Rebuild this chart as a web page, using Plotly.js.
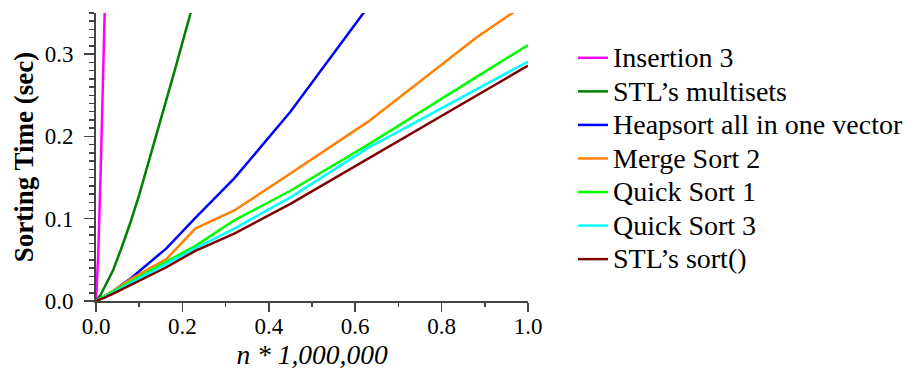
<!DOCTYPE html>
<html>
<head>
<meta charset="utf-8">
<script src="https://cdn.plot.ly/plotly-3.0.1.min.js"></script>
<style>
html,body{margin:0;padding:0;background:#fff;}
#chart{width:916px;height:376px;}
.main-svg text, .main-svg tspan {font-family: "Liberation Serif", "Times New Roman", serif !important;}
</style>
</head>
<body>
<div id="chart"></div>
<script>
// Data (n in millions, time in seconds)
const seriesNames = ["Insertion 3", "STL\u2019s multisets", "Heapsort all in one vector", "Merge Sort 2", "Quick Sort 1", "Quick Sort 3", "STL\u2019s sort()"];
const seriesColors = ["#ff00ff", "#008000", "#0000ff", "#ff8000", "#00ff00", "#00ffff", "#800000"];

const nInsertion = [0, 0.005, 0.0108, 0.015, 0.021];
const tInsertion = [0, 0.055, 0.157, 0.24, 0.37];

const nMultiset = [0, 0.01, 0.02, 0.04, 0.06, 0.08, 0.10, 0.12, 0.14, 0.16, 0.18, 0.20, 0.22, 0.23];
const tMultiset = [0, 0.007, 0.017, 0.038, 0.066, 0.096, 0.129, 0.165, 0.201, 0.238, 0.276, 0.314, 0.352, 0.371];

const nCommon = [0, 0.01, 0.02, 0.04, 0.0815, 0.163, 0.23, 0.32, 0.45, 0.63, 0.88, 1.0];
const tHeap   = [0, 0.003, 0.006, 0.012, 0.028, 0.064, 0.101, 0.149, 0.230, 0.355, 0.53, 0.62];
const tMerge2 = [0, 0.003, 0.006, 0.012, 0.027, 0.051, 0.088, 0.110, 0.155, 0.218, 0.320, 0.363];
const tQuick1 = [0, 0.003, 0.006, 0.011, 0.024, 0.048, 0.067, 0.098, 0.134, 0.190, 0.272, 0.311];
const tQuick3 = [0, 0.002, 0.005, 0.010, 0.022, 0.045, 0.064, 0.088, 0.126, 0.186, 0.257, 0.291];
const tSTLsort= [0, 0.002, 0.004, 0.009, 0.020, 0.041, 0.061, 0.082, 0.118, 0.173, 0.249, 0.286];

const xs = [nInsertion, nMultiset, nCommon, nCommon, nCommon, nCommon, nCommon];
const ys = [tInsertion, tMultiset, tHeap, tMerge2, tQuick1, tQuick3, tSTLsort];

const yTitle = "<b>Sorting Time (sec)</b>";
const xTitle = "<i>n * 1,000,000</i>";

const FONT = "Liberation Serif";

const traces = seriesNames.map((name, i) => ({
  type: "scatter",
  mode: "lines",
  name: '<span style="font-size:28px">' + name + '</span>',
  x: xs[i],
  y: ys[i],
  line: {color: seriesColors[i], width: 2.5},
  hoverinfo: "skip"
}));

const axisCommon = {
  showgrid: false,
  zeroline: false,
  showline: true,
  linecolor: "#444",
  linewidth: 2,
  ticks: "outside",
  tickcolor: "#444",
  tickwidth: 1.5,
  tickformat: ".1f",
  tickfont: {family: FONT, size: 23, color: "#000"},
  automargin: false
};

const layout = {
  width: 916,
  height: 376,
  paper_bgcolor: "#fff",
  plot_bgcolor: "#fff",
  margin: {l: 96, r: 388, t: 13, b: 75, autoexpand: false},
  font: {family: FONT, color: "#000"},
  showlegend: true,
  legend: {
    x: (573 - 96) / 432,
    xanchor: "left",
    y: 0.92,
    yanchor: "top",
    font: {family: FONT, size: 23.5, color: "#000"},
    bgcolor: "rgba(0,0,0,0)",
    borderwidth: 0
  },
  xaxis: Object.assign({}, axisCommon, {
    range: [0, 1],
    dtick: 0.2,
    tick0: 0,
    ticklen: 9,
    ticklabelstandoff: -6,
    minor: {dtick: 0.1, ticklen: 4, ticks: "outside", tickcolor: "#444", tickwidth: 1.5},
    title: {text: xTitle, font: {family: FONT, size: 27.5, color: "#000"}, standoff: 1}
  }),
  yaxis: Object.assign({}, axisCommon, {
    range: [0, 0.35],
    dtick: 0.1,
    tick0: 0,
    ticklen: 10,
    ticklabelstandoff: 6,
    minor: {dtick: 0.01, ticklen: 5, ticks: "outside", tickcolor: "#444", tickwidth: 1.5},
    title: {text: yTitle, font: {family: FONT, size: 27, color: "#000"}, standoff: 3}
  })
};

Plotly.newPlot("chart", traces, layout, {displayModeBar: false, staticPlot: true});
</script>
</body>
</html>
